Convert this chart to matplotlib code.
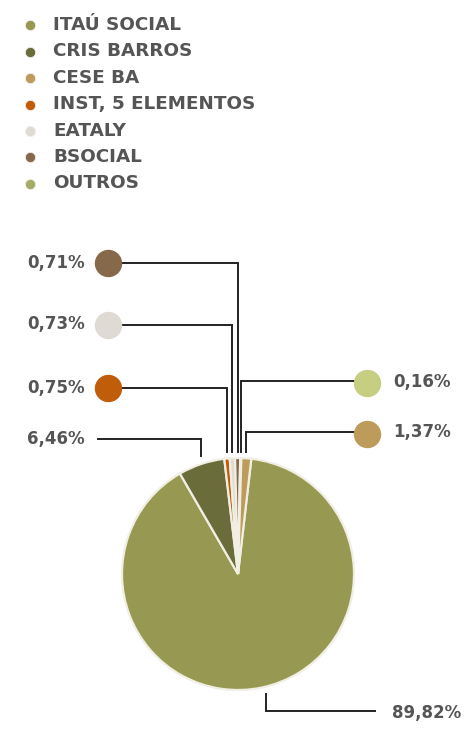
import numpy as np
import matplotlib
matplotlib.use('Agg')
import matplotlib.pyplot as plt

# data (legend order)
names = ['ITAÚ SOCIAL', 'CRIS BARROS', 'CESE BA', 'INST, 5 ELEMENTOS', 'EATALY', 'BSOCIAL', 'OUTROS']
values = [89.82, 6.46, 1.37, 0.75, 0.73, 0.71, 0.16]
labels = ['89,82%', '6,46%', '1,37%', '0,75%', '0,73%', '0,71%', '0,16%']
colors = ['#979852', '#6a6d3a', '#bd9b5b', '#c05d0a', '#dfdbd4', '#86694b', '#a6ab67']
label_dot_colors = [None, None, '#bd9b5b', '#c05d0a', '#dfdbd4', '#86694b', '#c5ce81']
# order of the wedges clockwise
draw_order = [0, 1, 3, 4, 5, 6, 2]

txt = '#555555'
font = dict(family=['DejaVu Sans'], fontweight='bold', color=txt)

fig = plt.figure(figsize=(4.66, 7.38), dpi=100)
ax = fig.add_axes([0, 0, 1, 1])

H = 738
cx, cy, r = 238, H - 574, 116

vals = [values[i] for i in draw_order]
wedges, _ = ax.pie(vals, colors=[colors[i] for i in draw_order], startangle=83.4,
                   counterclock=False, center=(cx, cy), radius=r, frame=True,
                   wedgeprops=dict(edgecolor='#f1eee4', linewidth=1.6))

# mid angle of each wedge
mid = {}
for i, w in zip(draw_order, wedges):
    mid[i] = np.deg2rad((w.theta1 + w.theta2) / 2)

# legend
leg_y = [25, 51.5, 78, 104.5, 131, 157, 183.5]
for k in range(len(names)):
    ax.scatter([30], [H - leg_y[k]], s=55, color=colors[k], edgecolors='#f3f0ea', linewidths=0.6, zorder=3)
    ax.text(53, H - leg_y[k], names[k], fontsize=13.2, va='center', ha='left', **font)

lc = '#222222'
lw = 1.4
line_bottom = H - 452
fs = 12

# left labels with dots: inst, eataly, bsocial
left = {3: 388, 4: 324.5, 5: 263}
for i, yy in left.items():
    x = cx + r * np.cos(mid[i])
    ax.plot([121, x, x], [H - yy, H - yy, line_bottom], color=lc, lw=lw, solid_joinstyle='miter')
    ax.scatter([108], [H - yy], s=350, color=label_dot_colors[i], zorder=3)
    ax.text(85, H - yy, labels[i], fontsize=fs, va='center', ha='right', **font)

# right labels: cese, outros
right = {2: 431.5, 6: 381}
for i, yy in right.items():
    x = cx + r * np.cos(mid[i])
    ax.plot([x, x, 354], [line_bottom, H - yy, H - yy], color=lc, lw=lw, solid_joinstyle='miter')
    ax.scatter([367], [H - yy - 2], s=350, color=label_dot_colors[i], zorder=3)
    ax.text(393, H - yy - 1, labels[i], fontsize=fs, va='center', ha='left', **font)

# cris barros
x = cx + r * np.cos(mid[1])
ax.plot([98, x, x], [H - 439, H - 439, H - 456], color=lc, lw=lw, solid_joinstyle='miter')
ax.text(85, H - 439, labels[1], fontsize=fs, va='center', ha='right', **font)

# itau
ax.plot([266, 266, 375], [H - 694, H - 711, H - 711], color=lc, lw=lw, solid_joinstyle='miter')
ax.text(392, H - 713, labels[0], fontsize=fs, va='center', ha='left', **font)

ax.set_xlim(0, 466)
ax.set_ylim(0, H)
ax.set_aspect('auto')
ax.axis('off')

plt.savefig('out.png', dpi=100)
